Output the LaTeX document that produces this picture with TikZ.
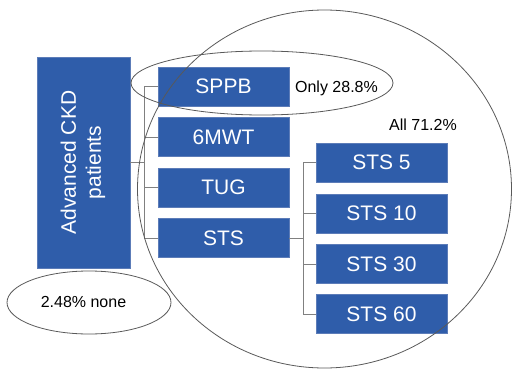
\documentclass[tikz,border=0pt]{standalone}
\usepackage{fontspec}
\setmainfont{Liberation Sans}
\usetikzlibrary{positioning}
\definecolor{ckdblue}{RGB}{47,93,170}
\definecolor{ckdedge}{RGB}{92,124,184}
\definecolor{linkgrey}{RGB}{128,128,128}

\begin{document}
\begin{tikzpicture}[x=1pt, y=-1pt,
    testbox/.style={draw=ckdedge, fill=ckdblue, text=white, inner sep=0pt,
        minimum width=131pt, minimum height=39pt, font=\fontsize{21}{25}\selectfont},
    link/.style={draw=linkgrey, line width=0.8pt},
    ring/.style={draw=black!65, line width=0.8pt},
    note/.style={font=\fontsize{16}{19}\selectfont, inner sep=0pt}]
    \useasboundingbox (0,0) rectangle (512,369);

    % patient group
    \node[draw=ckdedge, fill=ckdblue, text=white, inner sep=0pt, minimum width=93pt,
        minimum height=211pt, font=\fontsize{21}{25}\selectfont] (ckd) at (83.5,162.5)
        {\rotatebox{90}{\begin{tabular}{@{}c@{}}Advanced CKD\\patients\end{tabular}}};

    % tests
    \node[testbox] (sppb) at (223.5,86.5) {SPPB};
    \node[testbox] (mwt) at (223.5,137) {6MWT};
    \node[testbox] (tug) at (223.5,187.5) {TUG};
    \node[testbox] (sts) at (223.5,238) {STS};

    % sit-to-stand variants
    \node[testbox] (sts5) at (381.5,162.5) {STS 5};
    \node[testbox] (sts10) at (381.5,213.5) {STS 10};
    \node[testbox] (sts30) at (381.5,264) {STS 30};
    \node[testbox] (sts60) at (381.5,314) {STS 60};

    \coordinate (busA) at (144,162.5);
    \coordinate (busB) at (303,238);
    \draw[link] (ckd.east) -- (busA);
    \draw[link] (busA |- sppb.west) -- (busA |- sts.west);
    \foreach \t in {sppb,mwt,tug,sts}
        \draw[link] (busA |- \t.west) -- (\t.west);
    \draw[link] (sts.east) -- (busB);
    \draw[link] (busB |- sts5.west) -- (busB |- sts60.west);
    \foreach \t in {sts5,sts10,sts30,sts60}
        \draw[link] (busB |- \t.west) -- (\t.west);

    % groups
    \draw[ring] (324.5,189) ellipse [x radius=187pt, y radius=179pt];
    \draw[ring] (262,83) ellipse [x radius=131pt, y radius=32pt];
    \draw[ring] (89,302.5) ellipse [x radius=82pt, y radius=31.5pt];

    \node[note] (only) at (336.5,88) {Only 28.8\%};
    \node[note] (all) at (423,125) {All 71.2\%};
    \node[note] (none) at (83.5,302) {2.48\% none};
\end{tikzpicture}
\end{document}
